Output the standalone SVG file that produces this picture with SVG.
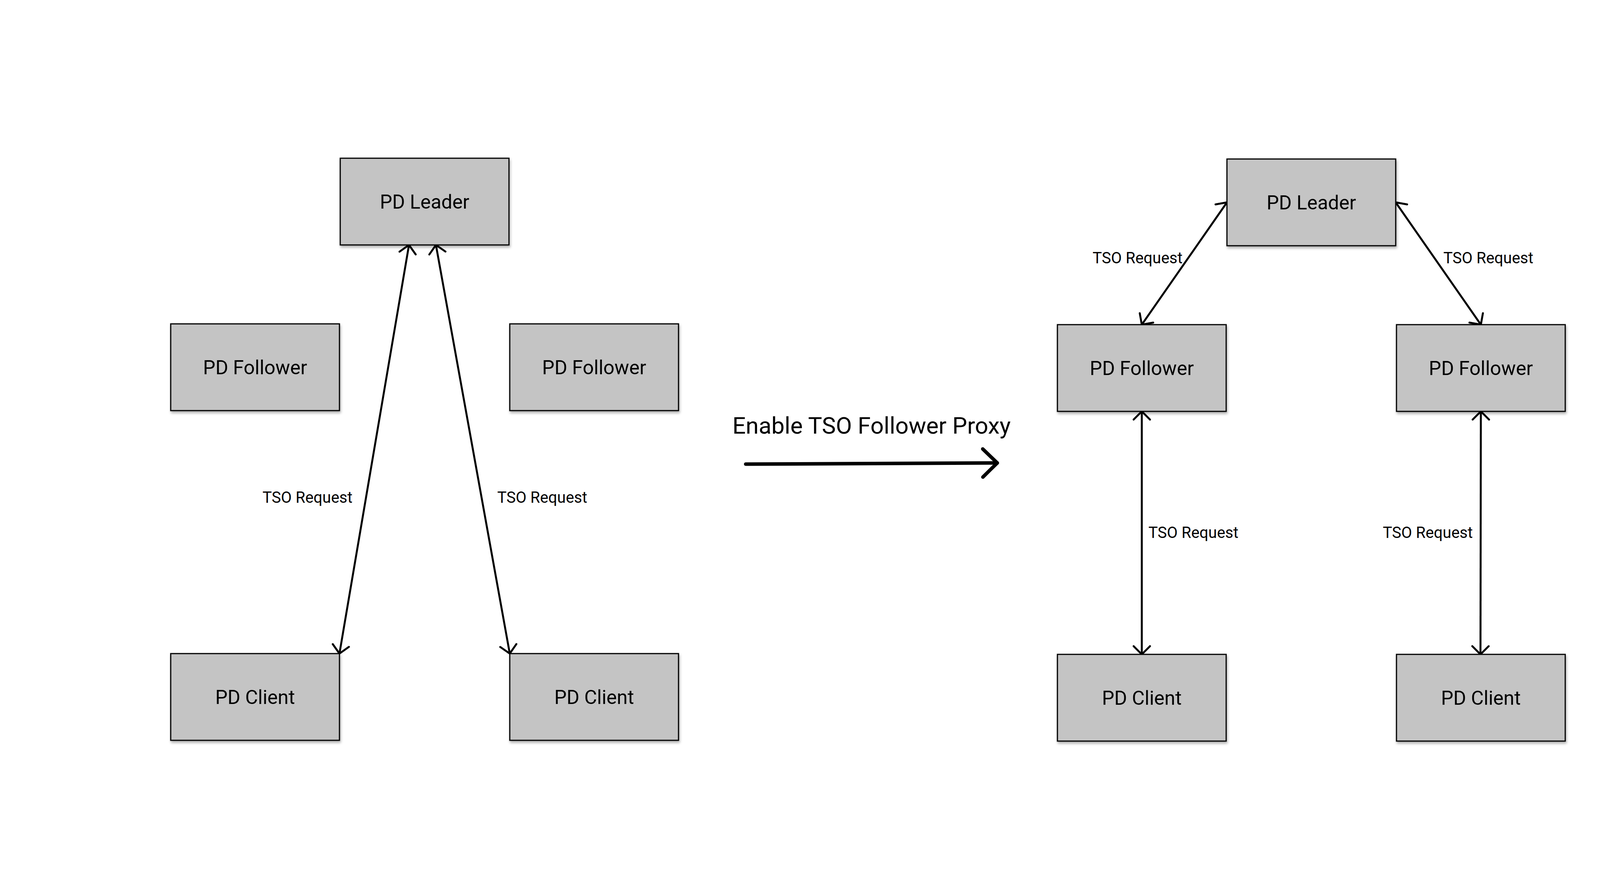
<svg xmlns="http://www.w3.org/2000/svg" width="4454" height="2250" viewBox="0 0 4454 2250">
  <style>
    .box { fill: #c4c4c4; stroke: #000; stroke-width: 3; filter: url(#shadow); }
    .lbl { font-family: Roboto, "Liberation Sans", sans-serif; font-size: 50px; fill: #000; text-anchor: middle; }
    .elbl { font-family: Roboto, "Liberation Sans", sans-serif; font-size: 40px; fill: #000; }
    .title { font-family: Roboto, "Liberation Sans", sans-serif; font-size: 60px; fill: #000; }
    .conn { stroke: #000; stroke-width: 5; fill: none; marker-start: url(#chev); marker-end: url(#chev); }
    .big { stroke: #000; stroke-width: 9; fill: none; stroke-linecap: round; marker-end: url(#chevBig); }
  </style>
  <defs>
    <filter id="shadow" x="-10%" y="-10%" width="125%" height="130%">
      <feDropShadow dx="2" dy="5" stdDeviation="3" flood-color="#000" flood-opacity="0.3"/>
    </filter>
    <marker id="chev" markerUnits="userSpaceOnUse" viewBox="-30 -30 40 60" markerWidth="40" markerHeight="60" refX="0" refY="0" orient="auto-start-reverse" overflow="visible">
      <path d="M -21 -21 L 0 0 L -21 21" fill="none" stroke="#000" stroke-width="5" stroke-linecap="round" stroke-linejoin="round"/>
    </marker>
    <marker id="chevBig" markerUnits="userSpaceOnUse" viewBox="-50 -50 60 100" markerWidth="60" markerHeight="100" refX="0" refY="0" orient="auto" overflow="visible">
      <path d="M -37 -36 L 0 0 L -37 36" fill="none" stroke="#000" stroke-width="9" stroke-linecap="round" stroke-linejoin="round"/>
    </marker>
  </defs>
  <rect width="4454" height="2250" fill="#fff"/>

  <g id="connectors">
    <line class="conn" x1="1047" y1="627" x2="869" y2="1673"/>
    <line class="conn" x1="1116" y1="627" x2="1305" y2="1673"/>
    <line class="conn" x1="3141" y1="518" x2="2923" y2="831"/>
    <line class="conn" x1="3573" y1="518" x2="3791" y2="831"/>
    <line class="conn" x1="2923" y1="1053" x2="2923" y2="1675"/>
    <line class="conn" x1="3791" y1="1053" x2="3790" y2="1675"/>
    <line class="big" x1="1909" y1="1188" x2="2553" y2="1185"/>
    <text class="elbl" x="672" y="1287">TSO Request</text>
    <text class="elbl" x="1273" y="1287">TSO Request</text>
    <text class="elbl" x="2797" y="674">TSO Request</text>
    <text class="elbl" x="3695" y="674">TSO Request</text>
    <text class="elbl" x="2940" y="1377">TSO Request</text>
    <text class="elbl" x="3540" y="1377">TSO Request</text>
    <text class="title" x="1875" y="1110">Enable TSO Follower Proxy</text>
  </g>

  <g id="left-leader">
    <rect class="box" x="871" y="405" width="432" height="222"/>
    <text class="lbl" x="1087" y="534">PD Leader</text>
  </g>
  <g id="left-follower-1">
    <rect class="box" x="437" y="829" width="432" height="222"/>
    <text class="lbl" x="653" y="958">PD Follower</text>
  </g>
  <g id="left-follower-2">
    <rect class="box" x="1305" y="829" width="432" height="222"/>
    <text class="lbl" x="1521" y="958">PD Follower</text>
  </g>
  <g id="left-client-1">
    <rect class="box" x="437" y="1673" width="432" height="222"/>
    <text class="lbl" x="653" y="1802">PD Client</text>
  </g>
  <g id="left-client-2">
    <rect class="box" x="1305" y="1673" width="432" height="222"/>
    <text class="lbl" x="1521" y="1802">PD Client</text>
  </g>

  <g id="right-leader">
    <rect class="box" x="3141" y="407" width="432" height="222"/>
    <text class="lbl" x="3357" y="536">PD Leader</text>
  </g>
  <g id="right-follower-1">
    <rect class="box" x="2707" y="831" width="432" height="222"/>
    <text class="lbl" x="2923" y="960">PD Follower</text>
  </g>
  <g id="right-follower-2">
    <rect class="box" x="3575" y="831" width="432" height="222"/>
    <text class="lbl" x="3791" y="960">PD Follower</text>
  </g>
  <g id="right-client-1">
    <rect class="box" x="2707" y="1675" width="432" height="222"/>
    <text class="lbl" x="2923" y="1804">PD Client</text>
  </g>
  <g id="right-client-2">
    <rect class="box" x="3575" y="1675" width="432" height="222"/>
    <text class="lbl" x="3791" y="1804">PD Client</text>
  </g>
</svg>
